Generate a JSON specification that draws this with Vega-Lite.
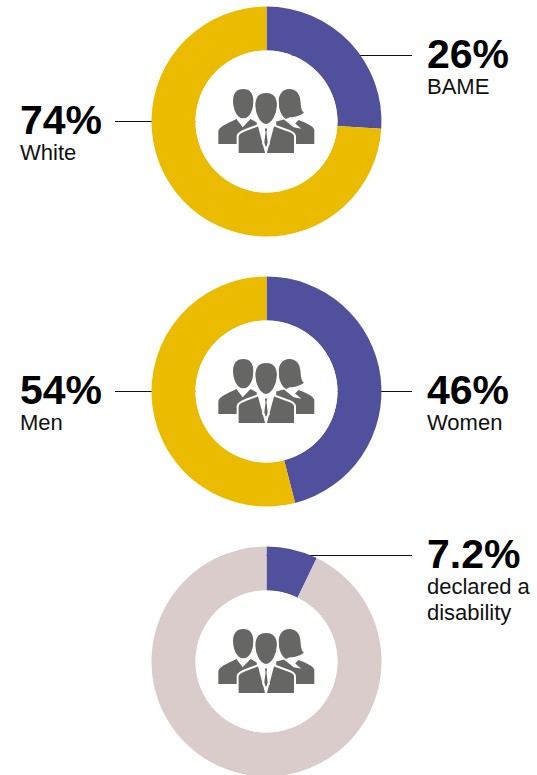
{
  "$schema": "https://vega.github.io/schema/vega-lite/v6.json",
  "width": 533,
  "height": 775,
  "padding": 0,
  "autosize": "none",
  "background": "white",
  "view": {"stroke": null},
  "config": {"text": {"font": "Liberation Sans"}, "scale": {"pointPadding": 0}},
  "datasets": {
    "segments": [
      {"panel": "Ethnicity", "segment": "BAME", "from": 0, "to": 26},
      {"panel": "Ethnicity", "segment": "White", "from": 26, "to": 100},
      {"panel": "Gender", "segment": "Women", "from": 0, "to": 46},
      {"panel": "Gender", "segment": "Men", "from": 46, "to": 100},
      {"panel": "Disability", "segment": "Declared a disability", "from": 0, "to": 7.2},
      {"panel": "Disability", "segment": "No declared disability", "from": 7.2, "to": 100}
    ],
    "panels": [
      {"panel": "Ethnicity"},
      {"panel": "Gender"},
      {"panel": "Disability"}
    ],
    "labels": [
      {"panel": "Ethnicity", "side": "right", "share": "26%", "label": "BAME", "raised": true},
      {"panel": "Ethnicity", "side": "left", "share": "74%", "label": "White", "raised": false},
      {"panel": "Gender", "side": "right", "share": "46%", "label": "Women", "raised": false},
      {"panel": "Gender", "side": "left", "share": "54%", "label": "Men", "raised": false},
      {"panel": "Disability", "side": "right", "share": "7.2%", "label": "declared a\ndisability", "raised": true}
    ]
  },
  "resolve": {"scale": {"x": "independent", "y": "independent"}},
  "layer": [
    {
      "data": {"name": "labels"},
      "transform": [{"filter": "!datum.raised"}],
      "mark": {"type": "rule", "color": "#111111", "strokeWidth": 1},
      "encoding": {
        "x": {"field": "side", "type": "nominal", "axis": null, "scale": {"type": "point", "padding": 0, "domain": ["left", "centre", "right"], "range": [115, 412]}},
        "x2": {"datum": "centre"},
        "y": {"field": "panel", "type": "nominal", "axis": null, "scale": {"type": "point", "padding": 0, "domain": ["Ethnicity", "Gender", "Disability"], "range": [121.5, 661.5]}}
      }
    },
    {
      "data": {"name": "labels"},
      "transform": [{"filter": "datum.raised"}],
      "mark": {"type": "rule", "color": "#111111", "strokeWidth": 1},
      "encoding": {
        "x": {"field": "side", "type": "nominal", "axis": null, "scale": {"type": "point", "padding": 0, "domain": ["left", "centre", "right"], "range": [115, 412]}},
        "x2": {"datum": "centre"},
        "y": {"field": "panel", "type": "nominal", "axis": null, "scale": {"type": "point", "padding": 0, "domain": ["Ethnicity", "Gender", "Disability"], "range": [55.5, 555.5]}}
      }
    },
    {
      "data": {"name": "segments"},
      "mark": {"type": "arc", "innerRadius": 71, "outerRadius": 115},
      "encoding": {
        "y": {"field": "panel", "type": "nominal", "axis": null, "scale": {"type": "point", "padding": 0, "domain": ["Ethnicity", "Gender", "Disability"], "range": [121.5, 661.5]}},
        "theta": {"field": "from", "type": "quantitative", "stack": null, "scale": {"domain": [0, 100], "range": [0, 6.28319]}},
        "theta2": {"field": "to"},
        "fill": {
          "field": "segment",
          "type": "nominal",
          "legend": null,
          "scale": {
            "domain": ["BAME", "White", "Women", "Men", "Declared a disability", "No declared disability"],
            "range": ["#51509C", "#EBBB00", "#51509C", "#EBBB00", "#51509C", "#D9CCCB"]
          }
        }
      }
    },
    {
      "data": {"name": "panels"},
      "mark": {"type": "arc", "innerRadius": 0, "outerRadius": 71, "theta": 0, "theta2": 6.28319, "fill": "white"},
      "encoding": {
        "y": {"field": "panel", "type": "nominal", "axis": null, "scale": {"type": "point", "padding": 0, "domain": ["Ethnicity", "Gender", "Disability"], "range": [121.5, 661.5]}}
      }
    },
    {
      "data": {"name": "panels"},
      "mark": {
        "type": "point",
        "filled": true,
        "opacity": 1,
        "size": 9409,
        "fill": "#666664",
        "strokeWidth": 0,
        "shape": "M-0.478,-0.67C-0.34,-0.67 -0.27,-0.58 -0.27,-0.42C-0.27,-0.28 -0.33,-0.065 -0.478,-0.065C-0.62,-0.065 -0.69,-0.28 -0.69,-0.42C-0.69,-0.58 -0.62,-0.67 -0.478,-0.67ZM-0.993,0.464L-0.993,0.2C-0.98,0.12 -0.85,0.06 -0.62,-0.05L-0.49,0.12L-0.33,-0.05L-0.2,0.02L-0.2,0.464ZM0.471,-0.67C0.62,-0.67 0.69,-0.56 0.7,-0.42C0.71,-0.3 0.72,-0.22 0.773,-0.18C0.68,-0.11 0.56,-0.08 0.48,-0.09L0.4,-0.05C0.31,-0.1 0.25,-0.25 0.25,-0.4C0.25,-0.56 0.33,-0.67 0.471,-0.67ZM0.986,0.464L0.986,0.17C0.97,0.1 0.8,0.02 0.66,-0.03L0.59,0.04L0.72,0.15L0.56,0.12L0.36,-0.04L0.2,0L0.2,0.464Z"
      },
      "encoding": {
        "y": {"field": "panel", "type": "nominal", "axis": null, "scale": {"type": "point", "padding": 0, "domain": ["Ethnicity", "Gender", "Disability"], "range": [121.5, 661.5]}}
      }
    },
    {
      "data": {"name": "panels"},
      "mark": {
        "type": "point",
        "filled": true,
        "opacity": 1,
        "size": 9409,
        "fill": "#666664",
        "stroke": "white",
        "strokeWidth": 2,
        "shape": "M-0.01,-0.608C0.16,-0.608 0.235,-0.5 0.235,-0.33C0.23,-0.16 0.13,0.07 -0.01,0.07C-0.15,0.07 -0.25,-0.16 -0.25,-0.33C-0.25,-0.5 -0.17,-0.608 -0.01,-0.608ZM-0.595,0.67L-0.595,0.3C-0.59,0.24 -0.5,0.2 -0.42,0.17L-0.16,0.075L-0.01,0.64L0.14,0.075L0.4,0.17C0.5,0.2 0.585,0.24 0.588,0.3L0.588,0.67ZM-0.06,0.125L0.04,0.125L0.02,0.22L0.05,0.46L-0.01,0.56L-0.07,0.46L-0.04,0.22Z"
      },
      "encoding": {
        "y": {"field": "panel", "type": "nominal", "axis": null, "scale": {"type": "point", "padding": 0, "domain": ["Ethnicity", "Gender", "Disability"], "range": [121.5, 661.5]}}
      }
    },
    {
      "data": {"name": "labels"},
      "transform": [{"filter": "!datum.raised"}],
      "layer": [
        {
          "mark": {"type": "text", "align": "left", "baseline": "alphabetic", "fontSize": 41, "fontWeight": "bold", "color": "#000000", "dy": 12},
          "encoding": {"text": {"field": "share"}}
        },
        {
          "mark": {"type": "text", "align": "left", "baseline": "alphabetic", "fontSize": 22, "color": "#111111", "dy": 38, "lineBreak": "\n", "lineHeight": 26},
          "encoding": {"text": {"field": "label"}}
        }
      ],
      "encoding": {
        "x": {"field": "side", "type": "nominal", "axis": null, "scale": {"type": "point", "padding": 0, "domain": ["left", "right"], "range": [20, 427]}},
        "y": {"field": "panel", "type": "nominal", "axis": null, "scale": {"type": "point", "padding": 0, "domain": ["Ethnicity", "Gender", "Disability"], "range": [121.5, 661.5]}}
      }
    },
    {
      "data": {"name": "labels"},
      "transform": [{"filter": "datum.raised"}],
      "layer": [
        {
          "mark": {"type": "text", "align": "left", "baseline": "alphabetic", "fontSize": 41, "fontWeight": "bold", "color": "#000000", "dy": 12},
          "encoding": {"text": {"field": "share"}}
        },
        {
          "mark": {"type": "text", "align": "left", "baseline": "alphabetic", "fontSize": 22, "color": "#111111", "dy": 38, "lineBreak": "\n", "lineHeight": 26},
          "encoding": {"text": {"field": "label"}}
        }
      ],
      "encoding": {
        "x": {"field": "side", "type": "nominal", "axis": null, "scale": {"type": "point", "padding": 0, "domain": ["left", "right"], "range": [20, 427]}},
        "y": {"field": "panel", "type": "nominal", "axis": null, "scale": {"type": "point", "padding": 0, "domain": ["Ethnicity", "Gender", "Disability"], "range": [55.5, 555.5]}}
      }
    }
  ]
}
